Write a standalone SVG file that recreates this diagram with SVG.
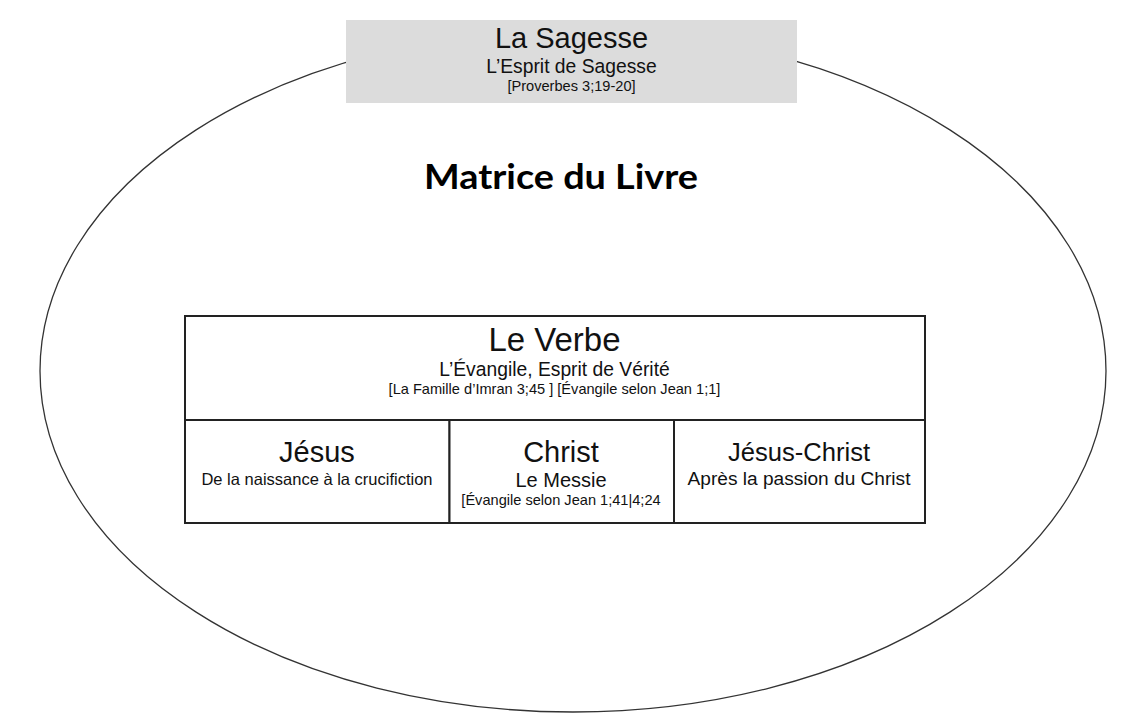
<svg xmlns="http://www.w3.org/2000/svg" width="1141" height="722" viewBox="0 0 1141 722">
<style>
text{font-family:"Liberation Sans",Arial,sans-serif;fill:#111;text-anchor:middle}
.cell{fill:#fff;stroke:#222;stroke-width:2}
.t1{font-size:29px}
.t3{font-size:14.6px}
.title{font-family:Lato,"Open Sans",sans-serif;font-weight:bold;font-size:35px;fill:#000}
</style>
<rect width="1141" height="722" fill="#fff"/>
<g id="matrice">
<ellipse cx="573" cy="371" rx="533" ry="341" fill="none" stroke="#333" stroke-width="1.3"/>
<text class="title" x="561" y="189" textLength="274" lengthAdjust="spacingAndGlyphs">Matrice du Livre</text>
</g>
<g id="sagesse">
<rect x="346" y="20" width="451" height="83" fill="#dcdcdc"/>
<text x="571.5" y="48" font-size="29">La Sagesse</text>
<text x="571.5" y="72.5" font-size="19.3">L’Esprit de Sagesse</text>
<text x="571.5" y="90.5" class="t3">[Proverbes 3;19-20]</text>
</g>
<g id="verbe">
<rect class="cell" x="185" y="316" width="740" height="104"/>
<text x="554.5" y="350.5" font-size="33">Le Verbe</text>
<text x="554.5" y="375.5" font-size="19.3">L’Évangile, Esprit de Vérité</text>
<text x="554.5" y="393.5" class="t3">[La Famille d’Imran 3;45 ] [Évangile selon Jean 1;1]</text>
</g>
<g id="jesus">
<rect class="cell" x="185" y="420" width="264.5" height="103"/>
<text x="317" y="462" class="t1">Jésus</text>
<text x="317" y="484.5" font-size="16.5">De la naissance à la crucifiction</text>
</g>
<g id="christ">
<rect class="cell" x="449.5" y="420" width="224.5" height="103"/>
<text x="561" y="462" class="t1">Christ</text>
<text x="561" y="487" font-size="20">Le Messie</text>
<text x="561" y="505" class="t3">[Évangile selon Jean 1;41|4;24</text>
</g>
<g id="jesus-christ">
<rect class="cell" x="674" y="420" width="251" height="103"/>
<text x="799" y="461" font-size="25.6">Jésus-Christ</text>
<text x="799" y="484.5" font-size="19.1">Après la passion du Christ</text>
</g>
<g id="connectors"></g>
</svg>
